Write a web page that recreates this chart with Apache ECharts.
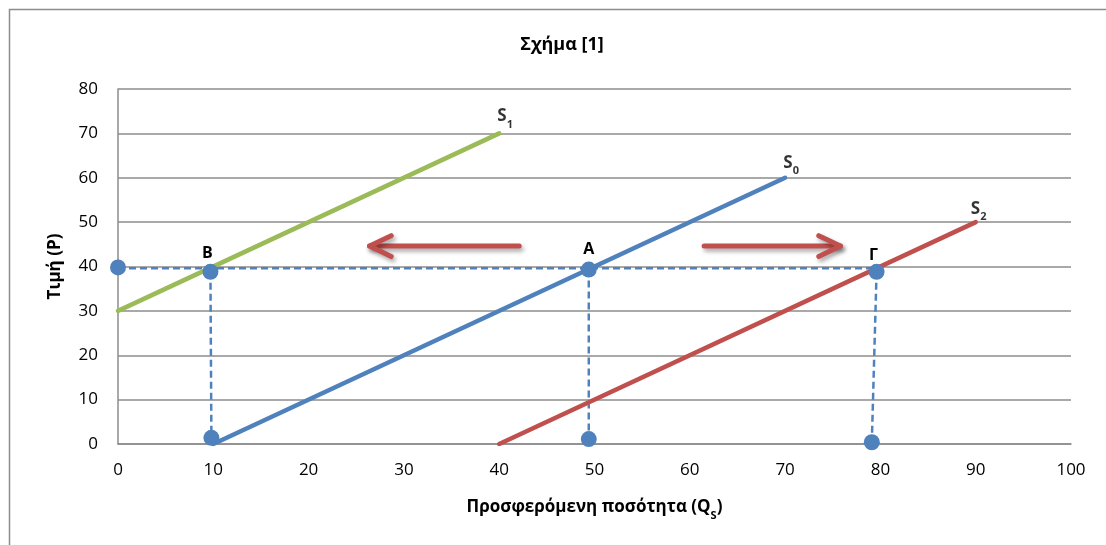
<!DOCTYPE html>
<html>
<head>
<meta charset="utf-8">
<script src="https://cdn.jsdelivr.net/npm/echarts@6/dist/echarts.min.js"></script>
<style>html,body{margin:0;padding:0;background:#fff;}#c{width:1106px;height:545px;}</style>
</head>
<body>
<div id="c"></div>
<script>
// Supply curves (Q, P)
const S1 = [[0, 30], [40, 70]];
const S0 = [[10, 0], [70, 60]];
const S2 = [[40, 0], [90, 50]];
const curveNames = ['1', '0', '2'];
// Dashed guide lines
const guideH = [[0, 39.6], [80, 39.6]];
const guideV = [
  [[9.7, 38.8], [9.8, 1.4]],
  [[49.4, 39.3], [49.4, 1.1]],
  [[79.6, 38.8], [79.1, 0.4]]
];
// Marked points and their labels
const points = [[0, 39.8], [9.7, 38.8], [9.8, 1.4], [49.4, 39.3], [49.4, 1.1], [79.6, 38.8], [79.1, 0.4]];
const pointLabels = ['', 'B', '', 'A', '', 'Γ', ''];
// Shift arrows [x0, y0, x1, y1]
const arrows = [[42.1, 44.6, 26.4, 44.6], [61.5, 44.6, 75.8, 44.6]];
// Axis ticks
const xMin = 0, xMax = 100, xStep = 10;
const yMin = 0, yMax = 80, yStep = 10;

const FONT = '"Open Sans", "Noto Sans", sans-serif';
const BLUE = '#4f81bd', RED = '#c0504d', GREEN = '#9bbb59', GRID = '#8c8c8c';

const chart = echarts.init(document.getElementById('c'));

function endLabelSeries(curve, sub, offset) {
  const end = curve[curve.length - 1];
  return {
    type: 'scatter', data: [end], symbolSize: 1, itemStyle: {color: 'transparent'},
    silent: true, z: 6,
    label: {
      show: true, position: 'top', offset: offset, formatter: '{s|S}{b|' + sub + '}',
      rich: {
        s: {fontFamily: FONT, fontSize: 17, fontWeight: 'bold', color: '#000', lineHeight: 22, verticalAlign: 'top'},
        b: {fontFamily: FONT, fontSize: 11, fontWeight: 'bold', color: '#000', lineHeight: 11, verticalAlign: 'bottom'}
      }
    }
  };
}

const labelOffsets = {B: [-3, 3], A: [0, 1], 'Γ': [-3, 5]};

const series = [
  {type: 'line', data: guideH, symbol: 'none', lineStyle: {color: BLUE, width: 2.5, type: [7, 4]}, z: 2, silent: true}
];
guideV.forEach(g => series.push({type: 'line', data: g, symbol: 'none', lineStyle: {color: BLUE, width: 2.5, type: [7, 4]}, z: 2, silent: true}));
[[S1, GREEN], [S0, BLUE], [S2, RED]].forEach(([d, c]) => series.push({
  type: 'line', data: d, symbol: 'none', lineStyle: {color: c, width: 4.5, cap: 'round'}, z: 3, silent: true
}));
series.push({
  type: 'scatter', symbolSize: 16, itemStyle: {color: BLUE, opacity: 1}, z: 5, silent: true,
  data: points.map((p, i) => ({
    value: p,
    label: {
      show: pointLabels[i] !== '', position: 'top', formatter: pointLabels[i],
      offset: labelOffsets[pointLabels[i]] || [0, 0],
      fontFamily: FONT, fontSize: 16, fontWeight: 'bold', color: '#000'
    }
  }))
});
series.push(endLabelSeries(S1, curveNames[0], [6, 2]));
series.push(endLabelSeries(S0, curveNames[1], [6, 4]));
series.push(endLabelSeries(S2, curveNames[2], [3, 6]));
series.push({
  type: 'custom', data: arrows, z: 4, silent: true,
  encode: {x: [0, 2], y: [1, 3]},
  renderItem: function (params, api) {
    const p0 = api.coord([api.value(0), api.value(1)]);
    const p1 = api.coord([api.value(2), api.value(3)]);
    const ang = Math.atan2(p1[1] - p0[1], p1[0] - p0[0]);
    const L = 24, A = 0.45;
    const a1 = [p1[0] - L * Math.cos(ang - A), p1[1] - L * Math.sin(ang - A)];
    const a2 = [p1[0] - L * Math.cos(ang + A), p1[1] - L * Math.sin(ang + A)];
    const st = {stroke: RED, lineWidth: 5, lineCap: 'round', lineJoin: 'round', fill: null,
      shadowBlur: 4, shadowOffsetX: 2, shadowOffsetY: 3, shadowColor: 'rgba(0,0,0,0.35)'};
    return {type: 'group', children: [
      {type: 'polyline', shape: {points: [p0, p1]}, style: st},
      {type: 'polyline', shape: {points: [a1, p1, a2]}, style: st}
    ]};
  }
});

chart.setOption({
  animation: false,
  backgroundColor: '#fff',
  graphic: [
    {type: 'rect', shape: {x: 9.5, y: 9.5, width: 1200, height: 600}, style: {fill: null, stroke: GRID, lineWidth: 1.5}, silent: true},
    {type: 'text', x: 562, y: 45, style: {text: 'Σχήμα [1]', fontFamily: FONT, fontSize: 18, fontWeight: 'bold', fill: '#000', textAlign: 'center', textVerticalAlign: 'middle'}}
  ],
  grid: {left: 118, right: 35, top: 89, bottom: 101, containLabel: false},
  xAxis: {
    type: 'value', min: xMin, max: xMax, interval: xStep,
    name: '{n|Προσφερόμενη ποσότητα (Q}{s|S}{n|)}',
    nameLocation: 'middle', nameGap: 55,
    nameTextStyle: {rich: {
      n: {fontFamily: FONT, fontSize: 17, fontWeight: 'bold', color: '#000', lineHeight: 22, verticalAlign: 'top'},
      s: {fontFamily: FONT, fontSize: 11, fontWeight: 'bold', color: '#000', lineHeight: 11, verticalAlign: 'bottom'}
    }},
    axisLine: {show: true, lineStyle: {color: GRID, width: 1.5}},
    axisTick: {show: false},
    splitLine: {show: false},
    axisLabel: {fontFamily: FONT, fontSize: 17, color: '#000', margin: 18}
  },
  yAxis: {
    type: 'value', min: yMin, max: yMax, interval: yStep,
    name: 'Τιμή (P)', nameLocation: 'middle', nameGap: 54, nameRotate: 90,
    nameTextStyle: {fontFamily: FONT, fontSize: 17, fontWeight: 'bold', color: '#000'},
    axisLine: {show: true, lineStyle: {color: GRID, width: 1.5}},
    axisTick: {show: false},
    splitLine: {show: true, lineStyle: {color: GRID, width: 1.5}},
    axisLabel: {fontFamily: FONT, fontSize: 17, color: '#000', margin: 20}
  },
  series: series
});
</script>
</body>
</html>
